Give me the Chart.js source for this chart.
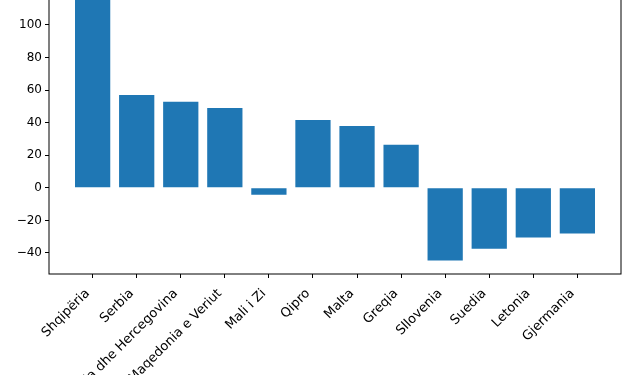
<!DOCTYPE html>
<html>
<head>
<meta charset="utf-8">
<script src="https://cdn.jsdelivr.net/npm/chart.js@4.4.1/dist/chart.umd.min.js"></script>
<style>
  html, body { margin: 0; padding: 0; background: #fff; overflow: hidden; }
  #wrap { position: absolute; left: 0; top: -34px; width: 630px; height: 409px; }
</style>
</head>
<body>
<div id="wrap"><canvas id="chart" width="630" height="409"></canvas></div>
<script>
// Ndryshimi sipas vendit (vlerat lexuar nga grafiku)
const countries = [
  'Shqipëria', 'Serbia', 'Bosnja dhe Hercegovina', 'Maqedonia e Veriut',
  'Mali i Zi', 'Qipro', 'Malta', 'Greqia', 'Sllovenia', 'Suedia',
  'Letonia', 'Gjermania'
];
const values = [121.4, 57, 52.8, 49, -4.3, 41.7, 38, 26.4, -44.6, -37.4, -30.5, -28];
const yTicks = [-40, -20, 0, 20, 40, 60, 80, 100, 120];

const barColor = '#1f77b4';
const font = { family: 'DejaVu Sans', size: 12 };

// kornizë rreth zonës së grafikut (si matplotlib)
const frame = {
  id: 'frame',
  afterDraw(chart) {
    const { ctx, chartArea: a } = chart;
    ctx.save();
    ctx.strokeStyle = '#000';
    ctx.lineWidth = 1;
    ctx.strokeRect(a.left, a.top, a.right - a.left, a.bottom - a.top);
    ctx.restore();
  }
};

new Chart(document.getElementById('chart'), {
  type: 'bar',
  data: {
    datasets: [{
      data: countries.map((c, i) => ({ x: i, y: values[i] })),
      backgroundColor: barColor,
      borderWidth: 0,
      categoryPercentage: 1,
      barPercentage: 0.8
    }]
  },
  options: {
    responsive: false,
    animation: false,
    layout: { padding: { top: 10.6, left: 0, right: 9, bottom: 0 } },
    plugins: { legend: { display: false }, tooltip: { enabled: false } },
    scales: {
      x: {
        type: 'linear',
        offset: false,
        min: -0.99,
        max: 11.99,
        grid: { offset: false, drawOnChartArea: false, color: '#000', tickLength: 4 },
        border: { display: false },
        afterBuildTicks: s => { s.ticks = countries.map((c, i) => ({ value: i })); },
        afterFit: s => { s.height = 101; s.paddingLeft = 0; s.paddingRight = 0; },
        ticks: {
          autoSkip: false,
          minRotation: 45,
          maxRotation: 45,
          padding: 8,
          labelOffset: -5,
          color: '#000',
          font: { family: 'DejaVu Sans', size: 13 },
          callback: v => countries[v]
        }
      },
      y: {
        min: -52.9,
        max: 129.7,
        grid: { drawOnChartArea: false, color: '#000', tickLength: 4 },
        border: { display: false },
        afterBuildTicks: s => { s.ticks = yTicks.map(v => ({ value: v })); },
        afterFit: s => { s.width = 49; },
        ticks: {
          padding: 3,
          color: '#000',
          font,
          callback: v => String(v).replace('-', '\u2212')
        }
      }
    }
  },
  plugins: [frame]
});
</script>
</body>
</html>
